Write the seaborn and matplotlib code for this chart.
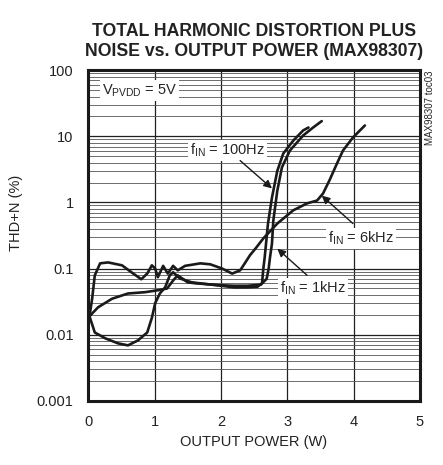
import numpy as np
import pandas as pd
import matplotlib
matplotlib.use('Agg')
import matplotlib.pyplot as plt
import seaborn as sns

# THD+N curves (output power W, THD+N %)
hz100_x = [0.02, 0.1, 0.26, 0.45, 0.6, 0.75, 0.89, 0.96, 1.01, 1.08, 1.16, 1.23, 1.28, 1.38,
           1.56, 1.8, 2.0, 2.2, 2.4, 2.55, 2.62, 2.64, 2.66, 2.71, 2.77, 2.85, 2.94, 3.09, 3.24, 3.32]
hz100_y = [0.019, 0.0108, 0.0088, 0.0074, 0.0069, 0.0082, 0.0108, 0.018, 0.03, 0.042, 0.052, 0.079,
           0.088, 0.071, 0.062, 0.058, 0.055, 0.052, 0.052, 0.053, 0.06, 0.1, 0.147, 0.48, 1.19, 3.0,
           5.5, 8.6, 12.3, 13.6]

khz1_x = [0.02, 0.15, 0.36, 0.6, 0.86, 1.05, 1.19, 1.28, 1.35, 1.5, 1.61, 1.8, 2.0, 2.2, 2.4, 2.6,
          2.69, 2.72, 2.74, 2.77, 2.79, 2.85, 2.92, 3.04, 3.24, 3.39, 3.52]
khz1_y = [0.019, 0.026, 0.035, 0.042, 0.044, 0.047, 0.05, 0.066, 0.079, 0.062, 0.06, 0.058, 0.056,
          0.055, 0.055, 0.057, 0.07, 0.1, 0.147, 0.24, 0.53, 1.5, 3.4, 6.1, 10.3, 13.6, 17.0]

khz6_x = [0.02, 0.06, 0.1, 0.18, 0.3, 0.51, 0.68, 0.8, 0.89, 0.96, 1.01, 1.05, 1.13, 1.2, 1.28,
          1.35, 1.46, 1.58, 1.69, 1.84, 2.02, 2.17, 2.29, 2.36, 2.44, 2.52, 2.64, 2.85, 3.09, 3.3,
          3.45, 3.54, 3.64, 3.75, 3.84, 3.99, 4.17]
khz6_y = [0.019, 0.035, 0.079, 0.12, 0.124, 0.112, 0.084, 0.069, 0.084, 0.112, 0.1, 0.074, 0.11,
          0.084, 0.11, 0.094, 0.11, 0.115, 0.12, 0.116, 0.1, 0.084, 0.094, 0.12, 0.16, 0.2, 0.286,
          0.48, 0.76, 0.97, 1.07, 1.37, 2.2, 3.9, 6.1, 9.6, 14.6]

x_ticks = [0, 1, 2, 3, 4, 5]
y_ticks = [0.001, 0.01, 0.1, 1, 10, 100]
y_tick_labels = ['0.001', '0.01', '0.1', '1', '10', '100']

sns.set_style('white')
plt.rcParams['font.family'] = ['Liberation Sans', 'DejaVu Sans']
plt.rcParams['mathtext.default'] = 'regular'

fig = plt.figure(figsize=(4.43, 4.65), dpi=100)
ax = fig.add_axes([0.199, 0.138, 0.749, 0.711])

for xs, ys in [(hz100_x, hz100_y), (khz1_x, khz1_y), (khz6_x, khz6_y)]:
    df = pd.DataFrame({'x': xs, 'y': ys})
    sns.lineplot(data=df, x='x', y='y', ax=ax, color='#1a1a1a', lw=1.9,
                 sort=False, estimator=None, zorder=3)

ax.set_yscale('log')
ax.set_xlim(0, 5)
ax.set_ylim(0.001, 100)
ax.set_xticks(x_ticks)
ax.set_xticklabels([str(t) for t in x_ticks])
ax.set_yticks(y_ticks)
ax.set_yticklabels(y_tick_labels)
ax.yaxis.set_minor_locator(matplotlib.ticker.LogLocator(base=10, subs=np.arange(2, 10)))
ax.yaxis.set_minor_formatter(matplotlib.ticker.NullFormatter())
ax.grid(which='major', axis='both', color='#202020', lw=0.9)
ax.grid(which='minor', axis='y', color='#555555', lw=0.6)
ax.tick_params(which='both', length=0, labelsize=10.5, pad=10.5, colors='#222222')
for s in ax.spines.values():
    s.set_linewidth(2.2)
    s.set_color('#1a1a1a')

ax.set_xlabel('OUTPUT POWER (W)', fontsize=10.5, color='#222222', labelpad=4)
ax.set_ylabel('THD+N (%)', fontsize=10.5, color='#222222')
ax.yaxis.set_label_coords(-0.196, 0.57)
ax.set_title('TOTAL HARMONIC DISTORTION PLUS\nNOISE vs. OUTPUT POWER (MAX98307)',
             fontsize=12.7, fontweight='bold', color='#222222', linespacing=1.25, pad=10,
             family=['Liberation Sans Narrow', 'Liberation Sans', 'DejaVu Sans'])

box = dict(facecolor='white', edgecolor='none', pad=1.5)
ax.text(0.21, 49, 'V$_{PVDD}$ = 5V', fontsize=10.5, va='center', ha='left', bbox=box, zorder=4)
ax.text(1.54, 6.1, 'f$_{IN}$ = 100Hz', fontsize=10.5, va='center', ha='left', bbox=box, zorder=4)
ax.text(3.61, 0.285, 'f$_{IN}$ = 6kHz', fontsize=10.5, va='center', ha='left', bbox=box, zorder=4)
ax.text(2.89, 0.05, 'f$_{IN}$ = 1kHz', fontsize=10.5, va='center', ha='left', bbox=box, zorder=4)

arrow = dict(arrowstyle='-|>', color='#1a1a1a', lw=1.0, mutation_scale=12, shrinkA=0, shrinkB=0)
ax.annotate('', xy=(2.77, 1.63), xytext=(2.29, 4.3), arrowprops=arrow, zorder=5)
ax.annotate('', xy=(3.52, 1.27), xytext=(3.99, 0.48), arrowprops=arrow, zorder=5)
ax.annotate('', xy=(2.85, 0.2), xytext=(3.3, 0.079), arrowprops=arrow, zorder=5)

fig.text(0.971, 0.849, 'MAX98307 toc03', rotation=90, fontsize=7, ha='center', va='top',
         color='#222222')

plt.savefig('out.png', dpi=100)
